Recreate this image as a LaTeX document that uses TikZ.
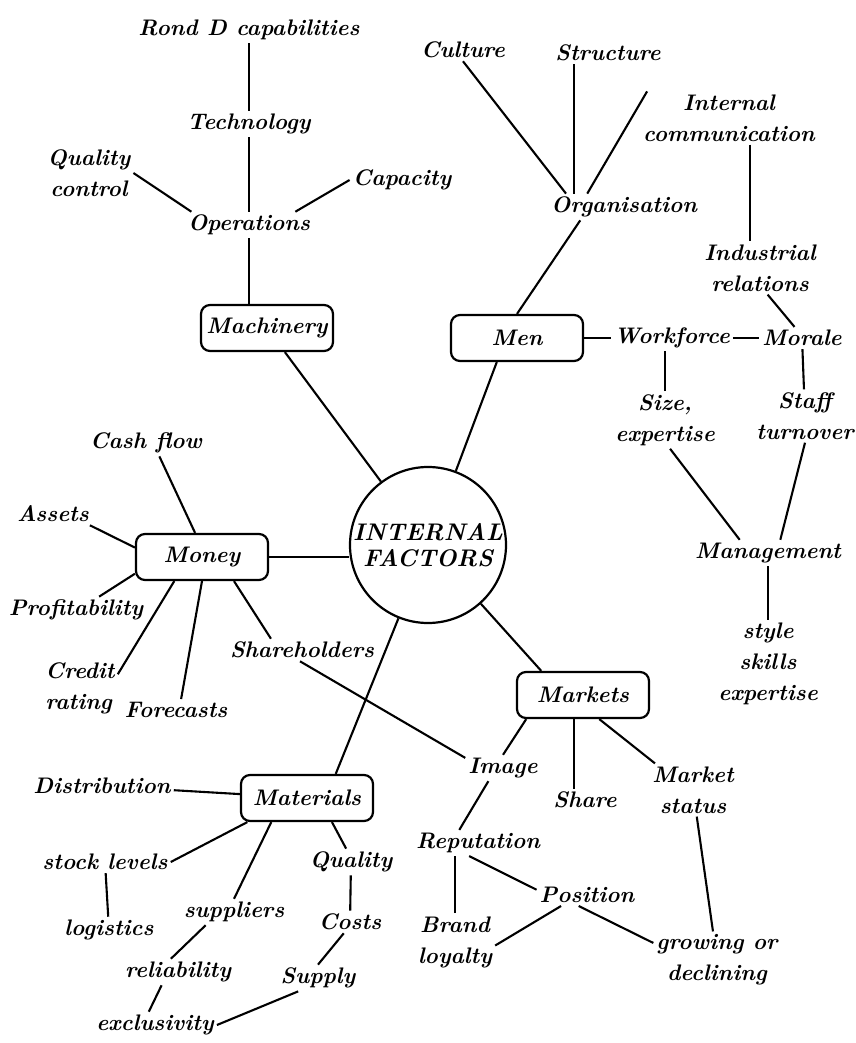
\documentclass[tikz,border=0pt]{standalone}
\usetikzlibrary{calc}
\newcommand\lblfont{\fontsize{22.5}{31}\selectfont\bfseries\itshape}
\tikzset{
  lbl/.style={font=\lblfont, inner sep=3pt, align=center},
  boxn/.style={draw, line width=2.2pt, rounded corners=9pt, minimum width=132pt,
               minimum height=46pt, inner sep=2pt, font=\lblfont},
  hub/.style={draw, circle, line width=2.2pt, minimum size=156pt, inner sep=0pt,
              align=center, font=\fontsize{24}{30}\selectfont\bfseries\itshape},
  conn/.style={line width=2.1pt}
}
\begin{document}
\begin{tikzpicture}[x=1pt,y=-1pt]
\fill[white] (0,0) rectangle (855,1043);
\useasboundingbox (0,0) rectangle (855,1043);

% centre and the five main headings
\node[hub]  (circ)    at (428,545) {INTERNAL\\[-4pt]FACTORS};
\node[boxn] (mach)    at (267,328) {Machinery};
\node[boxn] (men)     at (517,338) {Men};
\node[boxn] (money)   at (202,557) {Money};
\node[boxn] (markets) at (583,695) {Markets};
\node[boxn] (mat)     at (307,798) {Materials};

% machinery
\node[lbl] (rd)   at (249,30)  {Rond D capabilities};
\node[lbl] (tech) at (249,124) {Technology};
\node[lbl] (qc)   at (89,173)  {Quality\\control};
\node[lbl] (cap)  at (402,180) {Capacity};
\node[lbl] (ops)  at (249,225) {Operations};

% men
\node[lbl] (cul)    at (463,50)  {Culture};
\node[lbl] (struct) at (608,53)  {Structure};
\node[lbl] (org)    at (624,207) {Organisation};
\node[lbl] (intc)   at (729,118) {Internal\\communication};
\node[lbl] (indr)   at (760,268) {Industrial\\relations};
\node[lbl] (wf)     at (672,338) {Workforce};
\node[lbl] (mor)    at (802,338) {Morale};
\node[lbl] (size)   at (665,420) {Size,\\expertise};
\node[lbl] (staff)  at (805,416) {Staff\\turnover};
\node[lbl] (mgmt)   at (768,553) {Management};
\node[lbl] (style)  at (768,664) {style\\skills\\expertise};

% money
\node[lbl] (cash)     at (146,443) {Cash flow};
\node[lbl] (assets)   at (53,514)  {Assets};
\node[lbl] (profit)   at (76,610)  {Profitability};
\node[lbl, align=left] (credit) at (80,688) {Credit\\rating};
\node[lbl] (fore)     at (176,710) {Forecasts};
\node[lbl] (sholders) at (302,650) {Shareholders};

% markets
\node[lbl] (image)  at (503,768) {Image};
\node[lbl] (mshare) at (585,800) {Share};
\node[lbl] (mstat)  at (693,790) {Market\\status};
\node[lbl] (rep)    at (478,843) {Reputation};
\node[lbl] (pos)    at (587,895) {Position};
\node[lbl] (brand)  at (455,942) {Brand\\loyalty};
\node[lbl] (grow)   at (717,960) {growing or\\declining};

% materials
\node[lbl] (distr)  at (102,786)  {Distribution};
\node[lbl] (stock)  at (105,862)  {stock levels};
\node[lbl] (logi)   at (109,930)  {logistics};
\node[lbl] (supp)   at (234,912)  {suppliers};
\node[lbl] (reli)   at (178,972)  {reliability};
\node[lbl] (excl)   at (155,1025) {exclusivity};
\node[lbl] (qual)   at (351,862)  {Quality};
\node[lbl] (costs)  at (350,922)  {Costs};
\node[lbl] (supply) at (318,978)  {Supply};

\begin{scope}[conn]
% hub spokes
\draw (mach) -- (circ);
\draw (men.230) -- (circ);
\draw (money.east) -- (money.east -| circ.west);
\draw (markets.150) -- (circ);
\draw (mat.40) -- (circ);

% machinery
\draw (rd) -- (tech);
\draw (tech) -- (ops);
\draw (qc.east) -- (ops.167);
\draw (cap.west) -- (ops.16);
\draw (ops) -- (ops |- mach.north);

% men
\draw (cul.south) -- (org.167);
\draw ([xshift=-34pt]struct.south) -- ([xshift=-34pt]struct.south |- org.north);
\draw (intc.162) -- (org.160);
\draw ([xshift=21pt]intc.south) -- ([xshift=21pt]intc.south |- indr.north);
\draw (indr.286) -- (mor.124);
\draw (org.197) -- (men.north);
\draw (men) -- (wf);
\draw (wf) -- (mor);
\draw (size.north) -- (size.north |- wf.south);
\draw (mor) -- (staff);
\draw (size.280) -- (mgmt.155);
\draw (staff.south) -- (mgmt.47);
\draw (mgmt) -- (style);

% money
\draw (cash.315) -- (money.106);
\draw (assets.343) -- (money.172);
\draw (profit.30) -- (money.194);
\draw (credit.20) -- (money.221);
\draw (fore.65) -- (money.south);
\draw (sholders.160) -- (money.323);
\draw (sholders.260) -- (image.165);

% markets
\draw (markets.203) -- (image.north);
\draw ([xshift=-11pt]mshare.north) -- ([xshift=-11pt]mshare.north |- markets.south);
\draw (markets.304) -- (mstat.145);
\draw (image.222) -- (rep.145);
\draw (brand.north) -- (brand.north |- rep.south);
\draw (rep.236) -- (pos.174);
\draw (pos.203) -- (brand.-5);
\draw (pos.233) -- (grow.165);
\draw (mstat) -- (grow);

% materials
\draw (distr) -- (mat);
\draw (stock.east) -- (mat.202);
\draw (supp.north) -- (mat.214);
\draw (qual.110) -- (mat.316);
\draw (stock) -- (logi);
\draw (supp.205) -- (reli.118);
\draw (reli.219) -- (excl.115);
\draw (qual) -- (costs);
\draw (costs.241) -- (supply.north);
\draw (supply.214) -- (excl.east);
\end{scope}
\end{tikzpicture}
\end{document}
